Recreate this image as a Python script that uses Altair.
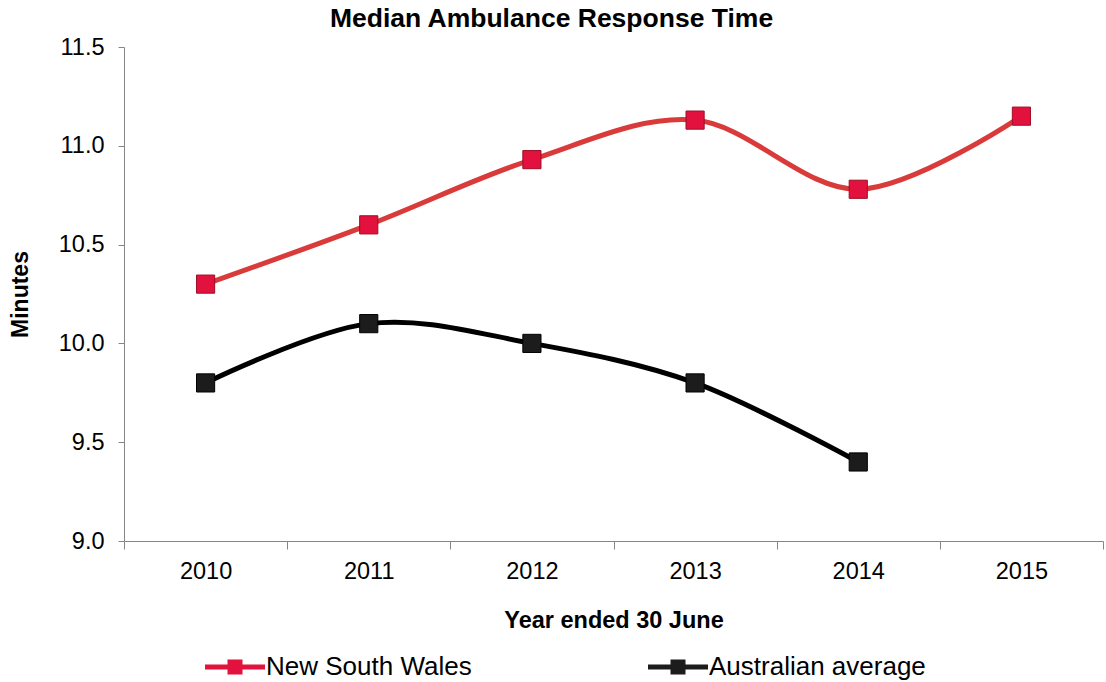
import altair as alt
import pandas as pd

years = ["2010", "2011", "2012", "2013", "2014", "2015"]
nsw = [10.3, 10.6, 10.93, 11.13, 10.78, 11.15]
aus = [9.8, 10.1, 10.0, 9.8, 9.4]

series = ["New South Wales", "Australian average"]
line_colors = ["#d93a3a", "#000000"]
marker_fill = ["#e3113d", "#1c1c1c"]

rows = [{"year": y, "minutes": v, "series": series[0]} for y, v in zip(years, nsw)]
rows += [{"year": y, "minutes": v, "series": series[1]} for y, v in zip(years, aus)]
df = pd.DataFrame(rows)

FONT = "Liberation Sans"

x = alt.X(
    "year:O",
    bandPosition=0.5,
    scale=alt.Scale(type="band", paddingInner=0, paddingOuter=0, domain=years),
    axis=alt.Axis(
        title="Year ended 30 June",
        titleFont=FONT, titleFontSize=23.5, titleFontWeight="bold", titleColor="#000",
        titlePadding=26,
        labelFont=FONT, labelFontSize=23.5, labelColor="#000", labelAngle=0,
        labelPadding=10,
        tickBand="extent", tickSize=8, tickColor="#868686",
        domainColor="#868686", grid=False,
    ),
)
y = alt.Y(
    "minutes:Q",
    scale=alt.Scale(domain=[9.0, 11.5], nice=False, zero=False),
    axis=alt.Axis(
        title="Minutes", values=[9.0, 9.5, 10.0, 10.5, 11.0, 11.5], format=".1f",
        titleFont=FONT, titleFontSize=23, titleFontWeight="bold", titleColor="#000",
        titlePadding=26,
        labelFont=FONT, labelFontSize=23.5, labelColor="#000", labelPadding=14,
        tickSize=6, tickColor="#868686", domainColor="#868686", grid=False,
    ),
)

legend_symbol = (
    "M-3,-0.25H3V0.25H-3Z"
    "M-0.75,-0.75H0.75V0.75H-0.75Z"
)

color = alt.Color(
    "series:N",
    scale=alt.Scale(domain=series, range=line_colors),
    legend=alt.Legend(
        title=None, orient="none", legendX=98, legendY=607,
        direction="horizontal", columns=2, columnPadding=176,
        symbolType=legend_symbol, symbolSize=400, symbolStrokeWidth=0,
        labelFont=FONT, labelFontSize=26, labelColor="#000", labelOffset=18,
        labelLimit=400,
    ),
)

lines = alt.Chart(df).mark_line(
    interpolate="cardinal", strokeWidth=5
).encode(x=x, y=y, color=color, detail="series:N")

points = alt.Chart(df).mark_point(
    shape="square", size=330, filled=True, opacity=1, strokeWidth=1
).encode(
    x=x, y=y,
    fill=alt.Fill("series:N", scale=alt.Scale(domain=series, range=marker_fill), legend=None),
    stroke=alt.Stroke("series:N", scale=alt.Scale(domain=series, range=["#9c0f25", "#000000"]), legend=None),
)

chart = (
    alt.layer(lines, points)
    .properties(
        width=979, height=494,
        title=alt.Title("Median Ambulance Response Time", font=FONT, fontSize=26.5,
                        fontWeight="bold", color="#000", offset=6, dx=-62, dy=3),
        autosize=alt.AutoSizeParams(type="none"),
        padding={"left": 124, "top": 47, "right": 3, "bottom": 141},
    )
    .configure_view(stroke=None)
)

chart.save("out.html", embed_options={"renderer": "svg", "actions": False})
